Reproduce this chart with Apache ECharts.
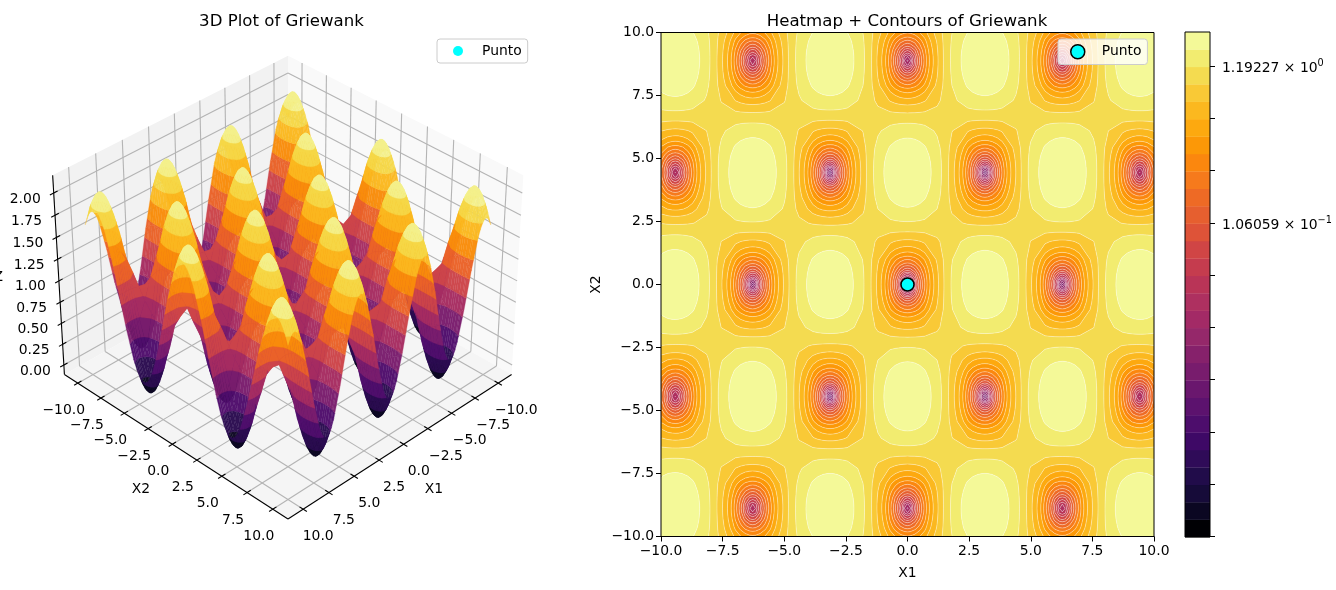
<!DOCTYPE html>
<html><head><meta charset="utf-8">
<script src="https://cdn.jsdelivr.net/npm/echarts@6/dist/echarts.min.js"></script>
<style>html,body{margin:0;padding:0;background:#fff}#c{width:1336px;height:590px}</style>
</head><body><div id="c"></div>
<script>
// Sample positions of one quadrant (the picture is mirror-symmetric in both axes)
const x1Half=[0,.12,.3,.5,.7,1.2,1.8,2.44,2.64,2.84,3.02,3.14,3.26,3.44,3.64,3.84,4.4,5,5.58,5.78,5.98,6.16,6.28,6.4,6.58,6.78,6.98,7.55,8.15,8.72,8.92,9.12,9.3,9.42,9.54,9.72,10];
const x2Half=[0,.17,.42,.7,1,1.7,2.44,3,3.44,3.74,4.02,4.27,4.44,4.61,4.86,5.14,5.44,6.1,6.7,7.3,7.89,8.19,8.47,8.72,8.89,9.06,9.31,9.59,9.7,10];
// Griewank height, one row per x2Half entry, one column per x1Half entry
const zQuadrant=[
[.0009,.0072,.0447,.1225,.2353,.638,1.228,1.7653,1.8785,1.9569,1.9949,2.0025,1.9957,1.9588,1.8816,1.7694,1.3121,.7226,.245,.1323,.0545,.0171,.0099,.017,.0545,.1324,.2454,.7151,1.3083,1.7807,1.8952,1.9747,2.0138,2.0222,2.0162,1.9803,1.8641],
[.0072,.0143,.0516,.1288,.2408,.6406,1.2264,1.7598,1.8722,1.95,1.9878,1.9953,1.9885,1.9519,1.8753,1.7639,1.3099,.7246,.2505,.1386,.0614,.0242,.0171,.0242,.0614,.1387,.2509,.7173,1.3062,1.7752,1.8889,1.9678,2.0067,2.015,2.009,1.9734,1.8581],
[.0438,.0507,.0865,.1609,.2688,.6539,1.218,1.7318,1.8401,1.9151,1.9514,1.9587,1.9522,1.9169,1.8431,1.7359,1.2986,.735,.2784,.1707,.0963,.0606,.0537,.0605,.0964,.1709,.279,.7282,1.2955,1.7473,1.8569,1.9329,1.9703,1.9784,1.9727,1.9384,1.8273],
[.1201,.1264,.1594,.2279,.3272,.6816,1.2008,1.6737,1.7734,1.8424,1.8759,1.8826,1.8766,1.8442,1.7763,1.6776,1.2753,.7567,.3366,.2375,.1691,.1363,.13,.1363,.1694,.238,.3375,.7511,1.2734,1.6894,1.7903,1.8603,1.8948,1.9023,1.8971,1.8656,1.7635],
[.2401,.2456,.2741,.3332,.419,.7252,1.1738,1.5824,1.6685,1.7282,1.7572,1.763,1.7579,1.7299,1.6713,1.5861,1.2387,.7909,.4282,.3427,.2837,.2554,.25,.2555,.2841,.3435,.4296,.7871,1.2387,1.5984,1.6856,1.7463,1.7762,1.7827,1.7783,1.7512,1.6632],
[.6405,.6431,.6566,.6847,.7253,.8706,1.0833,1.2773,1.3182,1.3467,1.3605,1.3634,1.3611,1.348,1.3204,1.2802,1.1162,.9048,.7337,.6935,.6658,.6527,.6504,.6532,.667,.6955,.7367,.9072,1.1224,1.2941,1.3359,1.3651,1.3797,1.3831,1.3813,1.3689,1.3279],
[1.1555,1.1544,1.1486,1.1368,1.1194,1.0577,.9673,.8854,.8682,.8564,.8509,.85,.8513,.8573,.8695,.8873,.959,1.0515,1.1268,1.1448,1.1574,1.1638,1.1654,1.1647,1.1596,1.1484,1.1318,1.0619,.9732,.9032,.8866,.8754,.8703,.8697,.8713,.8778,.8973],
[1.5255,1.5217,1.5021,1.4616,1.4025,1.1923,.8842,.6042,.5453,.5047,.4853,.4816,.4855,.5052,.5461,.6054,.8463,1.157,1.4092,1.4691,1.5105,1.531,1.5354,1.5321,1.5134,1.4738,1.4157,1.1731,.8663,.6228,.5642,.524,.5048,.5013,.5054,.5254,.5883],
[1.7625,1.757,1.7286,1.6696,1.584,1.2786,.8312,.4244,.3388,.28,.2514,.246,.2515,.2801,.3392,.4252,.7744,1.2248,1.5901,1.6768,1.7368,1.7662,1.7724,1.7675,1.7401,1.6822,1.5976,1.2445,.7981,.4435,.3581,.2993,.271,.2657,.2713,.3,.3907],
[1.8825,1.8762,1.8432,1.775,1.6759,1.3225,.8046,.3336,.2345,.1661,.1333,.127,.1334,.1664,.2348,.3341,.7382,1.2592,1.6818,1.782,1.8513,1.8853,1.8924,1.8867,1.8549,1.7877,1.6897,1.2808,.7637,.353,.254,.1858,.153,.1467,.1531,.1862,.2909],
[1.9596,1.9527,1.9169,1.8427,1.7349,1.3507,.7877,.2756,.1678,.0935,.0578,.0509,.0578,.0936,.168,.276,.7151,1.2814,1.7407,1.8496,1.9249,1.9618,1.9695,1.9633,1.9286,1.8556,1.749,1.3042,.7418,.2951,.1875,.1132,.0775,.0706,.0775,.1134,.2272],
[1.9971,1.9899,1.9527,1.8757,1.7638,1.3647,.7799,.248,.1361,.0589,.0217,.0146,.0217,.059,.1362,.2483,.7044,1.2925,1.7695,1.8825,1.9608,1.9991,2.007,2.0005,1.9645,1.8886,1.7779,1.3159,.7317,.2676,.1558,.0787,.0414,.0343,.0415,.0787,.1968],
[2.0049,1.9977,1.9602,1.8826,1.7698,1.3677,.7785,.2426,.1298,.052,.0146,.0074,.0146,.0521,.1299,.2429,.7024,1.2949,1.7755,1.8894,1.9682,2.0068,2.0148,2.0083,1.972,1.8955,1.7839,1.3184,.7298,.2622,.1495,.0718,.0343,.0271,.0343,.0718,.1908],
[1.9984,1.9912,1.954,1.8769,1.7649,1.3656,.7805,.2483,.1363,.059,.0218,.0147,.0219,.0591,.1364,.2486,.7049,1.2933,1.7706,1.8837,1.962,2.0004,2.0083,2.0018,1.9658,1.8898,1.779,1.3167,.7322,.2679,.1559,.0788,.0415,.0344,.0415,.0788,.197],
[1.9628,1.9559,1.92,1.8458,1.7378,1.3531,.7893,.2765,.1686,.0942,.0584,.0515,.0584,.0943,.1687,.2769,.7166,1.2837,1.7436,1.8526,1.9281,1.965,1.9727,1.9665,1.9318,1.8586,1.7519,1.3065,.7434,.296,.1882,.1139,.0781,.0712,.0781,.114,.228],
[1.8876,1.8813,1.8482,1.7799,1.6805,1.3263,.8072,.3352,.2358,.1673,.1344,.1281,.1345,.1675,.2361,.3357,.7407,1.2628,1.6864,1.7868,1.8563,1.8904,1.8975,1.8918,1.8599,1.7926,1.6943,1.2845,.7662,.3545,.2554,.187,.1541,.1478,.1542,.1873,.2924],
[1.769,1.7635,1.735,1.6759,1.59,1.2838,.8352,.4272,.3413,.2822,.2537,.2483,.2538,.2825,.3418,.4279,.7782,1.2298,1.5961,1.683,1.7432,1.7727,1.7789,1.774,1.7465,1.6884,1.6036,1.2496,.8018,.4463,.3607,.3017,.2733,.268,.2736,.3024,.3934],
[1.3974,1.3946,1.3801,1.35,1.3062,1.1503,.9219,.7144,.6707,.6407,.6264,.6237,.6266,.6414,.6717,.7158,.8948,1.1257,1.3131,1.3577,1.3886,1.404,1.4073,1.405,1.3912,1.362,1.3191,1.1397,.9127,.7327,.6895,.6599,.6458,.6434,.6466,.6616,.7086],
[.986,.9862,.9871,.9892,.992,1.0025,1.0177,1.0319,1.035,1.0373,1.0385,1.0389,1.0389,1.0383,1.0366,1.0342,1.0237,1.0104,.9998,.9975,.996,.9957,.9959,.9964,.9979,1.0005,1.0041,1.018,1.0352,1.0494,1.0532,1.056,1.0578,1.0586,1.059,1.0589,1.0573],
[.5781,.5812,.5976,.6315,.6806,.856,1.113,1.3472,1.3966,1.4309,1.4476,1.451,1.4482,1.4323,1.3988,1.3502,1.1518,.8961,.6891,.6404,.6068,.5909,.588,.5913,.6079,.6422,.6918,.8974,1.1568,1.3638,1.4141,1.4492,1.4667,1.4707,1.4684,1.4533,1.4035],
[.2533,.2588,.2874,.3467,.4327,.7397,1.1896,1.5993,1.6857,1.7455,1.7746,1.7804,1.7753,1.7472,1.6884,1.603,1.2547,.8056,.4419,.3562,.297,.2686,.2632,.2687,.2974,.357,.4433,.8018,1.2546,1.6152,1.7027,1.7636,1.7936,1.8001,1.7957,1.7685,1.6802],
[.1354,.1417,.1748,.2434,.3428,.6978,1.2179,1.6915,1.7913,1.8604,1.894,1.9007,1.8947,1.8622,1.7942,1.6954,1.2925,.773,.3523,.253,.1845,.1516,.1453,.1516,.1847,.2535,.3531,.7674,1.2905,1.7072,1.8082,1.8784,1.9129,1.9204,1.9152,1.8836,1.7814],
[.0608,.0677,.1036,.1781,.286,.6714,1.2362,1.7504,1.8588,1.9338,1.9702,1.9775,1.971,1.9357,1.8618,1.7545,1.3168,.7527,.2956,.1878,.1133,.0776,.0707,.0775,.1134,.188,.2962,.7458,1.3137,1.7659,1.8756,1.9517,1.9891,1.9972,1.9915,1.9572,1.846],
[.0259,.0331,.0703,.1476,.2596,.6595,1.2454,1.779,1.8914,1.9693,2.0071,2.0146,2.0078,1.9712,1.8945,1.7831,1.3286,.7436,.2693,.1574,.0801,.0429,.0358,.0429,.0801,.1575,.2697,.7362,1.3253,1.7944,1.9082,1.9871,2.026,2.0343,2.0284,1.9927,1.8773],
[.0198,.027,.0645,.1423,.2551,.6578,1.2478,1.7851,1.8983,1.9767,2.0147,2.0223,2.0155,1.9786,1.9014,1.7892,1.3319,.7424,.2648,.1521,.0743,.0369,.0297,.0368,.0743,.1522,.2652,.7349,1.3281,1.8005,1.915,1.9945,2.0336,2.042,2.036,2.0001,1.8839],
[.0281,.0353,.0725,.1497,.2616,.6613,1.2468,1.78,1.8923,1.9701,2.0079,2.0154,2.0087,1.972,1.8954,1.7841,1.3303,.7453,.2713,.1595,.0823,.0451,.038,.045,.0823,.1596,.2717,.7379,1.3266,1.7954,1.909,1.988,2.0268,2.0351,2.0291,1.9935,1.8782],
[.0664,.0733,.1091,.1834,.2912,.6759,1.2395,1.7529,1.861,1.9359,1.9722,1.9795,1.973,1.9378,1.864,1.7569,1.3201,.757,.3008,.1932,.1189,.0832,.0763,.0831,.1189,.1934,.3014,.7502,1.317,1.7684,1.8778,1.9538,1.9912,1.9992,1.9935,1.9592,1.8483],
[.1444,.1507,.1837,.252,.3512,.705,1.2234,1.6956,1.7951,1.864,1.8974,1.9041,1.8982,1.8658,1.798,1.6994,1.2978,.78,.3606,.2617,.1934,.1606,.1543,.1606,.1936,.2621,.3615,.7744,1.2959,1.7112,1.8119,1.8819,1.9164,1.9238,1.9186,1.8872,1.7852],
[.1847,.1907,.2222,.2875,.3821,.7199,1.2149,1.6657,1.7607,1.8265,1.8584,1.8648,1.8591,1.8282,1.7635,1.6695,1.2861,.7918,.3915,.297,.2318,.2006,.1946,.2006,.2322,.2976,.3925,.7868,1.2848,1.6814,1.7776,1.8444,1.8774,1.8845,1.8796,1.8496,1.7523],
[.3197,.3248,.3512,.4061,.4857,.7698,1.186,1.5652,1.6451,1.7005,1.7274,1.7328,1.7281,1.7021,1.6478,1.5687,1.2465,.8312,.4948,.4155,.3608,.3345,.3296,.3347,.3613,.4165,.4964,.8283,1.2473,1.5812,1.6623,1.7186,1.7464,1.7525,1.7484,1.7234,1.6418]
];
// Contour levels and band colours, bottom to top
const contourLevels=[.00084,.0011,.00144,.00188,.00246,.00322,.00421,.00551,.00721,.00943,.01234,.01615,.02113,.02765,.03618,.04734,.06194,.08105,.10606,.1387,.1815,.2375,.3108,.4067,.5322,.6964,.9112,1.19227,1.5601,2.0414];
const bandColors=['#000004','#0b0722','#160b39','#210c4a','#2f0b58','#3e0966','#4d0d6c','#5c126e','#6a176e','#781c6d','#86216b','#95286a','#a32a66','#ae3060','#b93457','#c53c4e','#d04545','#de5338','#e65f2f','#ee6a25','#f67a1c','#fb870e','#fc9807','#fda90f','#fbb81f','#f9c936','#f4db50','#f2ec70','#f4f998'];
const surfaceLevels=[0,.15,.35,.55,.75,.95,1.15,1.35,1.55,1.72,1.88,2.1];
const surfaceColors=['#0c0722','#2a0b50','#4f0d6c','#7a1d6d','#a62c61','#cc4449','#ea6228','#f98c0a','#fbb81f','#f6d746','#f4f08a'];
const tickValues=[-10,-7.5,-5,-2.5,0,2.5,5,7.5,10];
const zTickValues=[0,.25,.5,.75,1,1.25,1.5,1.75,2];
const colorbarTicks=[0,3,6,9,12,15,18,21,24,27];
const colorbarLabels={27:'{a|1.19227 × 10}{b|0}',18:'{a|1.06059 × 10}{b|−1}'};
const punto=[[0,0]];

const FONT='"DejaVu Sans"';
const fmt=v=>v.toFixed(1).replace('-','−');
const xs=[...x1Half.slice(1).reverse().map(v=>-v),...x1Half];
const ys=[...x2Half.slice(1).reverse().map(v=>-v),...x2Half];
const nx=x1Half.length-1, ny=x2Half.length-1;
const zAt=(i,j)=>zQuadrant[Math.abs(j-ny)][Math.abs(i-nx)];

function clipAbove(poly,lev,keepAbove){
  const out=[];
  for(let k=0;k<poly.length;k++){
    const a=poly[k],b=poly[(k+1)%poly.length];
    const ia=keepAbove?a[2]>=lev:a[2]<=lev, ib=keepAbove?b[2]>=lev:b[2]<=lev;
    if(ia)out.push(a);
    if(ia!==ib){const t=(lev-a[2])/(b[2]-a[2]);out.push([a[0]+t*(b[0]-a[0]),a[1]+t*(b[1]-a[1]),lev]);}
  }
  return out;
}
function bandClip(poly,lo,hi,openLo,openHi){
  let p=poly;
  if(!openLo)p=clipAbove(p,lo,true);
  if(p.length>2&&!openHi)p=clipAbove(p,hi,false);
  return p.length>2?p:null;
}
function cellPoly(i,j){return [[xs[i],ys[j],zAt(i,j)],[xs[i+1],ys[j],zAt(i+1,j)],[xs[i+1],ys[j+1],zAt(i+1,j+1)],[xs[i],ys[j+1],zAt(i,j+1)]];}

const bandRings=bandColors.map(()=>[]);
const lineRings=contourLevels.map(()=>[]);
for(let i=0;i<xs.length-1;i++)for(let j=0;j<ys.length-1;j++){
  const q=cellPoly(i,j);
  const zs=q.map(p=>p[2]),mn=Math.min(...zs),mx=Math.max(...zs);
  bandColors.forEach((c,b)=>{
    const lo=contourLevels[b],hi=contourLevels[b+1];
    const openLo=b===0,openHi=b===bandColors.length-1;
    if((!openLo&&mx<lo)||(!openHi&&mn>hi))return;
    const r=bandClip(q,lo,hi,openLo,openHi);if(r)bandRings[b].push(r);
  });
  for(let l=1;l<contourLevels.length-1;l++){
    const L=contourLevels[l];if(mn>L||mx<L)continue;
    const pts=[];
    for(let k=0;k<4;k++){const a=q[k],b=q[(k+1)%4];
      if((a[2]<L)!==(b[2]<L)){const t=(L-a[2])/(b[2]-a[2]);pts.push([a[0]+t*(b[0]-a[0]),a[1]+t*(b[1]-a[1])]);}}
    if(pts.length>=2)lineRings[l].push([pts[0],pts[1]]);
    if(pts.length===4)lineRings[l].push([pts[2],pts[3]]);
  }
}
echarts.graphic.registerShape('rings',echarts.graphic.extendShape({
  type:'rings',shape:{rings:[],closed:true},
  buildPath(ctx,s){for(const r of s.rings){ctx.moveTo(r[0][0],r[0][1]);for(let k=1;k<r.length;k++)ctx.lineTo(r[k][0],r[k][1]);if(s.closed)ctx.closePath();}}
}));
const heatItems=[];
bandColors.forEach((c,b)=>heatItems.push({k:'b',b}));
contourLevels.forEach((c,l)=>{if(lineRings[l].length)heatItems.push({k:'l',l});});
heatItems.push({k:'f'});

const ELEV=35*Math.PI/180,AZ=45*Math.PI/180,DIST=10,SCALE=2724,CX=288,CY=277.4;
const XLIM=[-11.46,11.46],ZLIM=[-.116,2.197],BX=1.1905,BZ=.8929;
const n3=[Math.cos(ELEV)*Math.cos(AZ),Math.cos(ELEV)*Math.sin(AZ),Math.sin(ELEV)];
const u3=[-Math.SQRT1_2,Math.SQRT1_2,0];
const v3=[n3[1]*u3[2]-n3[2]*u3[1],n3[2]*u3[0]-n3[0]*u3[2],n3[0]*u3[1]-n3[1]*u3[0]];
const dot=(a,b)=>a[0]*b[0]+a[1]*b[1]+a[2]*b[2];
function box(x,y,z){return [(x-XLIM[0])/(XLIM[1]-XLIM[0])*BX-BX/2,(y-XLIM[0])/(XLIM[1]-XLIM[0])*BX-BX/2,(z-ZLIM[0])/(ZLIM[1]-ZLIM[0])*BZ-BZ/2];}
function proj(x,y,z){const p=box(x,y,z),w=DIST-dot(p,n3);return [CX+SCALE*dot(p,u3)/w,CY-SCALE*dot(p,v3)/w];}
const facets=[];
for(let i=0;i<xs.length-1;i++)for(let j=0;j<ys.length-1;j++){
  const q=cellPoly(i,j);
  const zs=q.map(p=>p[2]),mn=Math.min(...zs),mx=Math.max(...zs);
  const cz=(zs[0]+zs[1]+zs[2]+zs[3])/4;
  const depth=dot(box((xs[i]+xs[i+1])/2,(ys[j]+ys[j+1])/2,cz),n3);
  surfaceColors.forEach((c,b)=>{
    const lo=surfaceLevels[b],hi=surfaceLevels[b+1];
    if(mx<lo||mn>hi)return;
    const r=bandClip(q,lo,hi,false,false);
    if(r)facets.push({depth,color:c,pts:r.map(p=>proj(p[0],p[1],p[2]))});
  });
}
facets.sort((a,b)=>a.depth-b.depth);

function line(a,b,color,w,z2){return {type:'line',shape:{x1:a[0],y1:a[1],x2:b[0],y2:b[1]},style:{stroke:color,lineWidth:w},z2:z2||0};}
function label(text,x,y,align){return {type:'text',x,y,style:{text,fill:'#000',font:'13.9px '+FONT,textAlign:align||'center',textVerticalAlign:'middle'},z2:5};}
function axesBack(){
  const c=[];const L=XLIM[0],H=XLIM[1],ZL=ZLIM[0],ZH=ZLIM[1];
  const poly=(pts,fill)=>c.push({type:'polygon',shape:{points:pts.map(p=>proj(...p))},style:{fill}});
  poly([[L,L,ZL],[L,H,ZL],[L,H,ZH],[L,L,ZH]],'#f9f9f9');
  poly([[L,L,ZL],[H,L,ZL],[H,L,ZH],[L,L,ZH]],'#f2f2f2');
  poly([[L,L,ZL],[H,L,ZL],[H,H,ZL],[L,H,ZL]],'#f5f5f5');
  const G='#b4b4b4',W=1.1;
  tickValues.forEach(t=>{
    c.push(line(proj(t,H,ZL),proj(t,L,ZL),G,W),line(proj(t,L,ZL),proj(t,L,ZH),G,W));
    c.push(line(proj(H,t,ZL),proj(L,t,ZL),G,W),line(proj(L,t,ZL),proj(L,t,ZH),G,W));
  });
  zTickValues.forEach(t=>{c.push(line(proj(H,L,t),proj(L,L,t),G,W),line(proj(L,L,t),proj(L,H,t),G,W));});
  c.push(line(proj(L,H,ZL),proj(H,H,ZL),'#000',1.1,3),line(proj(H,L,ZL),proj(H,H,ZL),'#000',1.1,3),line(proj(H,L,ZL),proj(H,L,ZH),'#000',1.1,3));
  const T=.35;
  tickValues.forEach(t=>{
    const a=proj(t,H,ZL),b=proj(H,t,ZL);
    c.push(line(proj(t,H-T,ZL),proj(t,H+T,ZL),'#000',1.1,3),line(proj(H-T,t,ZL),proj(H+T,t,ZL),'#000',1.1,3));
    const dx=15+(t<0?3:0);
    c.push(label(fmt(t),a[0]+dx,a[1]+27.5),label(fmt(t),b[0]-14,b[1]+27.5));
  });
  zTickValues.forEach(t=>{
    const a=proj(H,L,t);
    c.push(line(proj(H+T,L,t),proj(H-T,L,t),'#000',1.1,3));
    c.push(label(t.toFixed(2),a[0]-13,a[1]+6,'right'));
  });
  c.push(label('X1',434,489),label('X2',141,489),label('Z',3,277,'right'));
  return {type:'group',children:c};
}

const option={
  animation:false,backgroundColor:'#fff',
  title:[
    {text:'3D Plot of Griewank',left:276.5,top:8,textAlign:'center',textStyle:{fontWeight:'normal',fontSize:16.6,fontFamily:FONT,color:'#000'}},
    {text:'Heatmap + Contours of Griewank',left:902,top:8,textAlign:'center',textStyle:{fontWeight:'normal',fontSize:16.6,fontFamily:FONT,color:'#000'}}
  ],
  legend:[
    {left:437,top:39,orient:'vertical',selectedMode:false,padding:[5,6,5,16],backgroundColor:'rgba(255,255,255,.8)',borderColor:'#ccc',borderWidth:1,borderRadius:3,itemWidth:10,itemHeight:10,
     textStyle:{fontFamily:FONT,fontSize:13.9,color:'#000',padding:[0,0,0,14]},data:[{name:'Punto',icon:'circle',itemStyle:{color:'#00ffff',borderWidth:0}}]},
    {left:1058,top:39,orient:'vertical',selectedMode:false,padding:[5,6,5,12],backgroundColor:'rgba(255,255,255,.8)',borderColor:'#ccc',borderWidth:1,borderRadius:3,itemWidth:14,itemHeight:14,
     textStyle:{fontFamily:FONT,fontSize:13.9,color:'#000',padding:[0,0,0,12]},data:[{name:'Punto',icon:'circle',itemStyle:{color:'#00ffff',borderColor:'#000',borderWidth:1.5}}]}
  ],
  grid:[
    {left:661,top:32.5,width:493,height:504,containLabel:false},
    {left:1185,top:32,width:25,height:505,containLabel:false}
  ],
  xAxis:[
    {gridIndex:0,type:'value',min:-10,max:10,interval:2.5,name:'X1',nameLocation:'middle',nameGap:30,nameTextStyle:{fontFamily:FONT,fontSize:13.9,color:'#000'},
     splitLine:{show:false},axisLine:{onZero:false,lineStyle:{color:'#000',width:1}},axisTick:{length:5,lineStyle:{color:'#000',width:1}},
     axisLabel:{fontFamily:FONT,fontSize:13.9,color:'#000',margin:8,formatter:fmt}},
    {gridIndex:1,type:'value',min:0,max:1,show:false}
  ],
  yAxis:[
    {gridIndex:0,type:'value',min:-10,max:10,interval:2.5,name:'X2',nameLocation:'middle',nameGap:58,nameTextStyle:{fontFamily:FONT,fontSize:13.9,color:'#000'},
     splitLine:{show:false},axisLine:{onZero:false,lineStyle:{color:'#000',width:1}},axisTick:{length:5,lineStyle:{color:'#000',width:1}},
     axisLabel:{fontFamily:FONT,fontSize:13.9,color:'#000',margin:7,padding:[2,0,0,0],formatter:fmt}},
    {gridIndex:1,type:'value',min:0,max:29,position:'right',splitLine:{show:false},axisLine:{show:false},axisTick:{show:false},
     axisLabel:{show:true,customValues:[18,27],margin:12,padding:[4,0,0,0],formatter:v=>colorbarLabels[v]||'',
       rich:{a:{fontFamily:FONT,fontSize:13.9,color:'#000',lineHeight:20},b:{fontFamily:FONT,fontSize:9.7,color:'#000',verticalAlign:'top',lineHeight:12}}}}
  ],
  series:[
    {type:'custom',name:'axes3d',coordinateSystem:'none',silent:true,z:1,data:[[0]],renderItem:()=>axesBack()},
    {type:'custom',name:'surface',coordinateSystem:'none',silent:true,z:2,progressive:0,data:facets.map((f,i)=>[i]),
     renderItem:(p,api)=>{const f=facets[api.value(0)];return {type:'polygon',shape:{points:f.pts},style:{fill:f.color,stroke:f.color,lineWidth:.3,opacity:.97}};}},
    {type:'custom',name:'contours',xAxisIndex:0,yAxisIndex:0,coordinateSystem:'cartesian2d',silent:true,z:2,progressive:0,clip:false,data:heatItems.map((f,i)=>[i]),
     encode:{x:[],y:[]},
     renderItem:(p,api)=>{
       const it=heatItems[p.dataIndex];
       if(it.k==='f'){const a=api.coord([-10,10]),b=api.coord([10,-10]);return {type:'rect',shape:{x:a[0],y:a[1],width:b[0]-a[0],height:b[1]-a[1]},style:{fill:'none',stroke:'#000',lineWidth:1}};}
       const src=it.k==='b'?bandRings[it.b]:lineRings[it.l];
       const rings=src.map(r=>r.map(q=>api.coord([q[0],q[1]])));
       if(it.k==='b')return {type:'rings',shape:{rings,closed:true},style:{fill:bandColors[it.b]}};
       return {type:'rings',shape:{rings,closed:false},style:{fill:'none',stroke:'rgba(255,255,255,.5)',lineWidth:.7}};
     }},
    {type:'custom',name:'colorbar',xAxisIndex:1,yAxisIndex:1,coordinateSystem:'cartesian2d',silent:true,z:2,clip:false,
     data:bandColors.map((c,i)=>[i]).concat([[-1]]),encode:{x:[],y:[]},
     renderItem:(p,api)=>{
       const i=api.value(0);
       if(i<0){
         const a=api.coord([0,29]),b=api.coord([1,0]);
         const kids=[{type:'rect',shape:{x:a[0],y:a[1],width:b[0]-a[0],height:b[1]-a[1]},style:{fill:'none',stroke:'#000',lineWidth:1}}];
         colorbarTicks.forEach(t=>{const q=api.coord([1,t]);kids.push({type:'line',shape:{x1:q[0],y1:Math.round(q[1])-.5,x2:q[0]+5,y2:Math.round(q[1])-.5},style:{stroke:'#000',lineWidth:1}});});
         return {type:'group',children:kids};
       }
       const a=api.coord([0,i+1]),b=api.coord([1,i]);
       return {type:'rect',shape:{x:a[0],y:a[1],width:b[0]-a[0],height:b[1]-a[1]+.3},style:{fill:bandColors[i]}};
     }},
    {type:'scatter',name:'Punto',xAxisIndex:0,yAxisIndex:0,z:5,symbolSize:13,itemStyle:{color:'#00ffff',borderColor:'#000',borderWidth:1.5,opacity:1},data:punto}
  ]
};
const chart=echarts.init(document.getElementById('c'),null,{renderer:'canvas',width:1336,height:590});
chart.setOption(option);
</script></body></html>
